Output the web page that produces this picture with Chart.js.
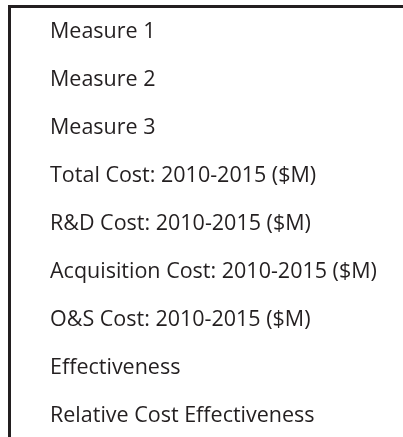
<!DOCTYPE html>
<html>
<head>
<meta charset="utf-8">
<script src="https://cdn.jsdelivr.net/npm/chart.js@4/dist/chart.umd.min.js"></script>
<style>
  html, body { margin: 0; padding: 0; background: #ffffff; overflow: hidden; }
  #wrap { position: absolute; left: 0; top: 0; width: 403px; height: 437px; }
  #frame {
    position: absolute; left: 8px; top: 5px;
    width: 395px; height: 432px;
    box-sizing: border-box;
    border-top: 3px solid #231f20;
    border-left: 3px solid #231f20;
    pointer-events: none;
  }
</style>
</head>
<body>
<div id="wrap"><canvas id="c"></canvas></div>
<div id="frame"></div>
<script>
const categories = [
  "Measure 1",
  "Measure 2",
  "Measure 3",
  "Total Cost: 2010-2015 ($M)",
  "R&D Cost: 2010-2015 ($M)",
  "Acquisition Cost: 2010-2015 ($M)",
  "O&S Cost: 2010-2015 ($M)",
  "Effectiveness",
  "Relative Cost Effectiveness"
];
const values = [null, null, null, null, null, null, null, null, null];

new Chart(document.getElementById('c'), {
  type: 'bar',
  data: {
    labels: categories,
    datasets: [{ data: values, backgroundColor: 'rgba(0,0,0,0)' }]
  },
  options: {
    indexAxis: 'y',
    responsive: true,
    maintainAspectRatio: false,
    animation: false,
    layout: { padding: { left: 50, top: 32, bottom: 21, right: 0 } },
    plugins: { legend: { display: false }, tooltip: { enabled: false } },
    scales: {
      x: { display: false, min: 0, max: 1 },
      y: {
        position: 'left',
        offset: false,
        grid: { display: false, drawTicks: false, offset: false },
        border: { display: false },
        ticks: {
          mirror: true,
          crossAlign: 'near',
          padding: 0,
          color: '#231f20',
          font: { family: "'Open Sans', sans-serif", size: 21.5 }
        }
      }
    }
  }
});
</script>
</body>
</html>
